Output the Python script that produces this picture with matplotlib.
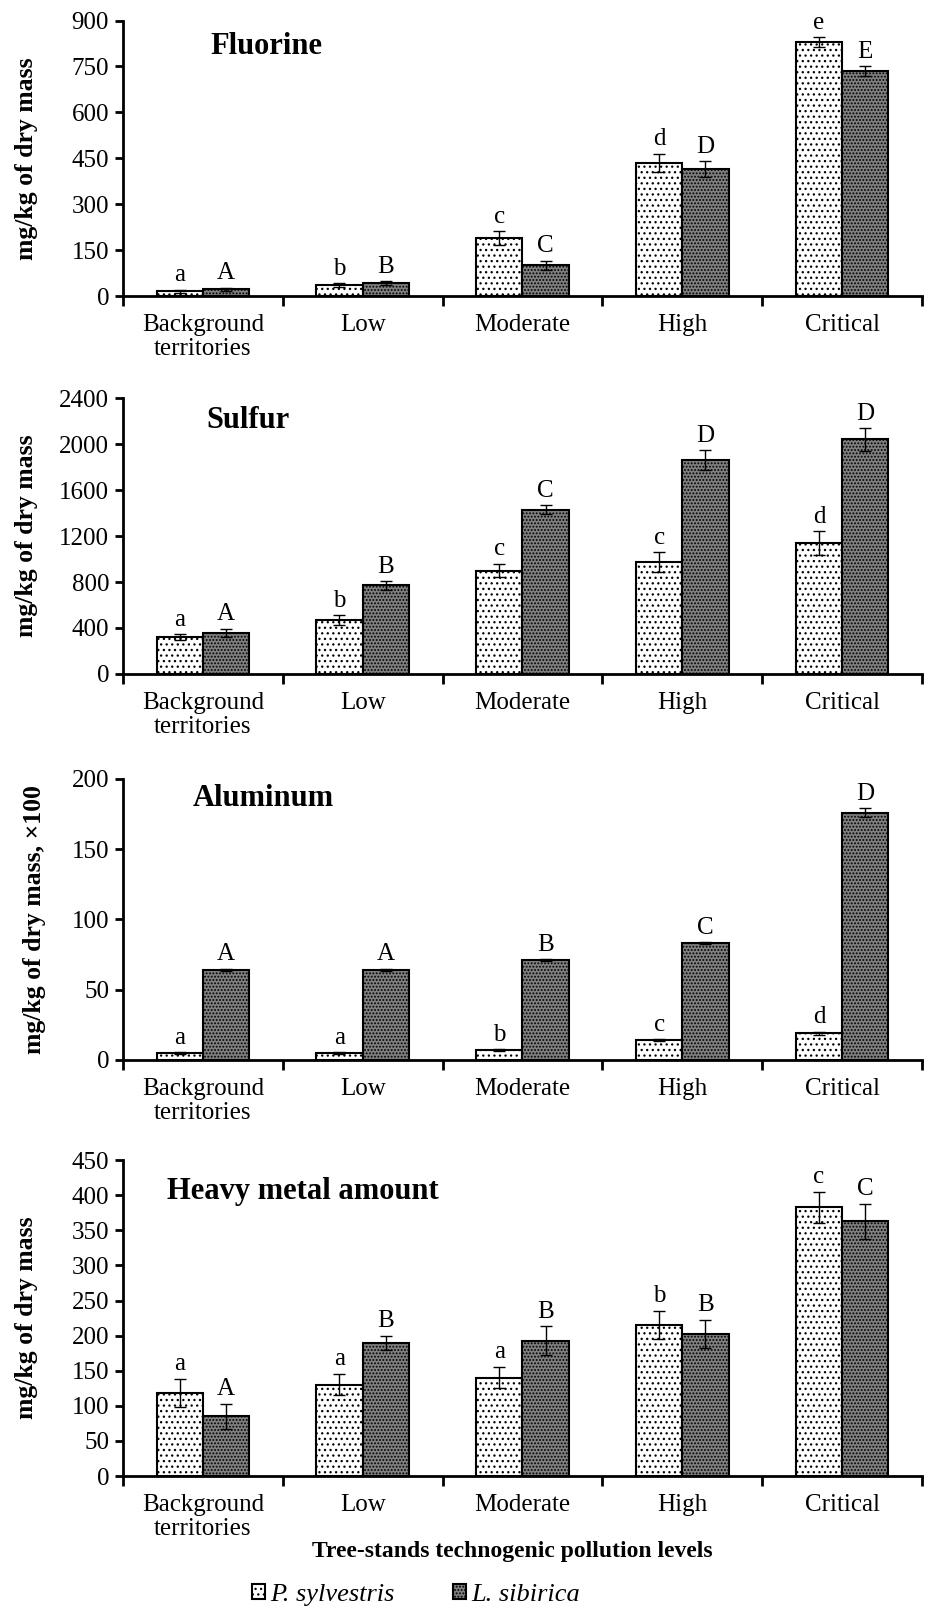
import matplotlib
matplotlib.use('Agg')
import matplotlib.pyplot as plt
import matplotlib.patches as mpatches
import numpy as np

### Data ###

categories = ['Background\nterritories', 'Low', 'Moderate', 'High', 'Critical']

fluorine_p = [15, 35, 190, 435, 830]
fluorine_p_err = [6, 6, 22, 30, 15]
fluorine_l = [22, 42, 100, 415, 735]
fluorine_l_err = [5, 6, 16, 25, 15]
fluorine_p_letters = ['a', 'b', 'c', 'd', 'e']
fluorine_l_letters = ['A', 'B', 'C', 'D', 'E']

sulfur_p = [320, 470, 900, 975, 1140]
sulfur_p_err = [25, 40, 60, 85, 105]
sulfur_l = [360, 770, 1430, 1860, 2040]
sulfur_l_err = [35, 40, 40, 85, 100]
sulfur_p_letters = ['a', 'b', 'c', 'c', 'd']
sulfur_l_letters = ['A', 'B', 'C', 'D', 'D']

aluminum_p = [5, 5, 7, 14, 19]
aluminum_p_err = [0.5, 0.5, 0.5, 0.8, 1.2]
aluminum_l = [64, 64, 71, 83, 176]
aluminum_l_err = [1, 1, 0.8, 0.8, 3]
aluminum_p_letters = ['a', 'a', 'b', 'c', 'd']
aluminum_l_letters = ['A', 'A', 'B', 'C', 'D']

metal_p = [118, 130, 140, 215, 383]
metal_p_err = [20, 15, 15, 20, 22]
metal_l = [85, 190, 193, 202, 363]
metal_l_err = [18, 10, 20, 20, 25]
metal_p_letters = ['a', 'a', 'a', 'b', 'c']
metal_l_letters = ['A', 'B', 'B', 'B', 'C']

panels = [
    ('Fluorine', 'mg/kg of dry mass', fluorine_p, fluorine_p_err, fluorine_l, fluorine_l_err,
     fluorine_p_letters, fluorine_l_letters, 900, 150),
    ('Sulfur', 'mg/kg of dry mass', sulfur_p, sulfur_p_err, sulfur_l, sulfur_l_err,
     sulfur_p_letters, sulfur_l_letters, 2400, 400),
    ('Aluminum', 'mg/kg of dry mass, \u00d7100', aluminum_p, aluminum_p_err, aluminum_l, aluminum_l_err,
     aluminum_p_letters, aluminum_l_letters, 200, 50),
    ('Heavy metal amount', 'mg/kg of dry mass', metal_p, metal_p_err, metal_l, metal_l_err,
     metal_p_letters, metal_l_letters, 450, 50),
]

# axes rectangles [left, bottom, width, height] in figure fraction
rects = [
    [0.1325, 0.8158, 0.861, 0.1714],
    [0.1325, 0.5806, 0.861, 0.1717],
    [0.1325, 0.3404, 0.861, 0.1749],
    [0.1325, 0.0815, 0.861, 0.1966],
]
title_pos = [(0.11, 0.907), (0.105, 0.92), (0.087, 0.93), (0.055, 0.90)]
ylabel_x = [-0.106, -0.106, -0.096, -0.106]

plt.rcParams['font.family'] = 'Liberation Serif'
plt.rcParams['hatch.linewidth'] = 0.9

fig = plt.figure(figsize=(9.28, 16.07), dpi=100)

x = np.arange(len(categories))
w = 0.29
light = dict(facecolor='white', edgecolor='black', hatch='...', linewidth=1.5)
dark = dict(facecolor='#808080', edgecolor='black', hatch='.....', linewidth=1.5)

for (title, ylab, p, pe, l, le, pl, ll, ymax, step), rect, tpos, ylx in zip(panels, rects, title_pos, ylabel_x):
    ax = fig.add_axes(rect)
    ax.bar(x - w / 2, p, w, **light)
    ax.bar(x + w / 2, l, w, **dark)
    ax.errorbar(x - w / 2, p, yerr=pe, fmt='none', ecolor='black', elinewidth=1, capsize=4, capthick=1)
    ax.errorbar(x + w / 2, l, yerr=le, fmt='none', ecolor='black', elinewidth=1, capsize=4, capthick=1)
    off = ymax * 0.012
    for i in range(len(x)):
        ax.text(x[i] - w / 2, p[i] + pe[i] + off, pl[i], ha='center', va='bottom', fontsize=18)
        ax.text(x[i] + w / 2, l[i] + le[i] + off, ll[i], ha='center', va='bottom', fontsize=18)

    ax.set_xlim(-0.5, 4.5)
    ax.set_ylim(0, ymax)
    ax.set_yticks(np.arange(0, ymax + 1, step))
    ax.set_xticks(x)
    ax.set_xticklabels(categories, fontsize=18, linespacing=1.1)
    ax.set_xticks(np.arange(-0.5, 5.0, 1.0), minor=True)
    ax.tick_params(axis='x', which='major', length=0, pad=13)
    ax.tick_params(axis='x', which='minor', length=7, width=2, direction='out')
    ax.tick_params(axis='y', length=6, width=2, direction='out', labelsize=18, pad=4)
    for s in ['top', 'right']:
        ax.spines[s].set_visible(False)
    for s in ['left', 'bottom']:
        ax.spines[s].set_linewidth(2)
    ax.set_ylabel(ylab, fontsize=18.5, fontweight='bold')
    ax.yaxis.set_label_coords(ylx, 0.5)
    ax.text(tpos[0], tpos[1], title, transform=ax.transAxes, fontsize=22, fontweight='bold',
            ha='left', va='center')

ax.set_xlabel('Tree-stands technogenic pollution levels', fontsize=17, fontweight='bold')
ax.xaxis.set_label_coords(0.487, -0.205)

handles = [mpatches.Patch(**light, label='P. sylvestris'),
           mpatches.Patch(**dark, label='L. sibirica')]
fig.legend(handles=handles, loc='center', bbox_to_anchor=(0.448, 0.0075), ncol=2, frameon=False,
           prop={'style': 'italic', 'size': 19}, handlelength=0.5, handleheight=0.5,
           handletextpad=0.2, columnspacing=2.2, borderpad=0.1)

fig.savefig('out.png', dpi=100)
